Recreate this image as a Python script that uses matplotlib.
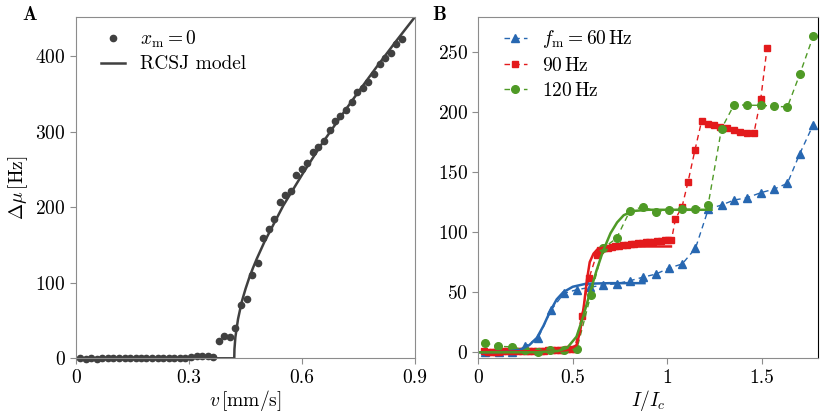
import matplotlib
matplotlib.use("Agg")
import matplotlib.pyplot as plt

plt.rcParams['font.family'] = 'serif'
plt.rcParams['font.serif'] = ['cmr10']
plt.rcParams['mathtext.fontset'] = 'cm'
plt.rcParams['axes.formatter.use_mathtext'] = True
plt.rcParams['font.size'] = 14

# ---- panel A data: x_m = 0 measurement
v_low = [0.011, 0.026, 0.041, 0.055, 0.070, 0.085, 0.099, 0.114, 0.129, 0.143,
         0.158, 0.173, 0.187, 0.202, 0.217, 0.231, 0.246, 0.261, 0.275, 0.290,
         0.305, 0.320, 0.334, 0.349, 0.364]
mu_low = [0, -1, 0, -1, 0, 1, 1, 1, 0, 1,
          1, 1, 1, 1, 1, 0, 1, 0, 1, 1,
          2, 3, 3, 3, 2]
v_high = [0.380, 0.394, 0.409, 0.423, 0.438, 0.453, 0.467, 0.482, 0.497, 0.511,
          0.526, 0.541, 0.555, 0.570, 0.585, 0.599, 0.614, 0.629, 0.643, 0.658,
          0.673, 0.687, 0.702, 0.717, 0.732, 0.747, 0.762, 0.776, 0.791, 0.806,
          0.820, 0.835, 0.850, 0.864]
mu_high = [23, 30, 28, 40, 70, 78, 110, 126, 159, 171,
           184, 207, 216, 221, 242, 251, 258, 273, 279, 287,
           302, 314, 321, 328, 339, 353, 358, 366, 376, 389,
           398, 404, 416, 423]
v_data = v_low + v_high
mu_data = mu_low + mu_high

# RCSJ model curve
v_model = [0, 0.42, 0.4205, 0.423, 0.43, 0.44, 0.45, 0.46, 0.47, 0.48, 0.50,
           0.55, 0.60, 0.65, 0.70, 0.75, 0.80, 0.85, 0.90]
mu_model = [0, 0, 12, 28, 52, 75, 92, 107, 120, 132, 154,
            202, 243, 282, 318, 353, 387, 420, 452]

# ---- panel B data
I_60 = [0.037, 0.107, 0.177, 0.247, 0.317, 0.385, 0.453, 0.520, 0.591, 0.662,
        0.732, 0.803, 0.873, 0.940, 1.010, 1.080, 1.150, 1.218, 1.288, 1.355,
        1.423, 1.496, 1.566, 1.637, 1.702, 1.773]
df_60 = [0, 0, 0, 5, 12, 35, 49, 52, 54, 56,
         57, 59.5, 62.5, 65, 70, 73.5, 86.5, 119, 122.5, 126.6,
         128.5, 132.7, 135.7, 140.5, 165, 189]

I_90 = [0.03, 0.05, 0.07, 0.09, 0.11, 0.13, 0.15, 0.17, 0.19, 0.21,
        0.23, 0.25, 0.27, 0.29, 0.31, 0.33, 0.35, 0.37, 0.39, 0.41,
        0.43, 0.45, 0.47, 0.49, 0.51, 0.547, 0.587, 0.626,
        0.646, 0.666, 0.686, 0.706, 0.726, 0.746, 0.766, 0.786, 0.806, 0.826,
        0.846, 0.866, 0.886, 0.906, 0.926, 0.946, 0.966, 0.986, 1.006, 1.023,
        1.044, 1.079, 1.111, 1.147, 1.182, 1.214, 1.247, 1.282, 1.317, 1.353,
        1.388, 1.423, 1.460, 1.496, 1.529]
df_90 = [1, 0, 0, 0, 0, 1, 1, 1, 1, 1,
         1, 1, 1, 1, 1, 1, 1, 2, 2, 2,
         2, 2, 3, 3, 3, 30, 62, 81,
         85, 86.5, 87, 87.5, 88, 88.5, 89, 89.5, 90, 90.3,
         90.7, 91, 91.3, 91.7, 92, 92.3, 92.7, 93, 93, 93.4,
         111, 121, 142, 168, 192, 190, 189, 187.5, 186.5, 185,
         183, 182, 182.5, 211, 253]

I_120 = [0.035, 0.106, 0.176, 0.246, 0.316, 0.381, 0.452, 0.522, 0.596, 0.661,
         0.732, 0.803, 0.873, 0.940, 1.010, 1.081, 1.150, 1.217, 1.288, 1.355,
         1.423, 1.496, 1.566, 1.637, 1.702, 1.773]
df_120 = [7.8, 5, 4.5, 2, 0.3, 1.7, 1.7, 2.8, 47.8, 86.6,
          94.8, 117.7, 121, 117, 118.3, 119, 119, 122.5, 186, 206,
          205.4, 205.4, 204.6, 204, 231, 262.6]

# fits
I_fit60 = [0, 0.13, 0.22, 0.27, 0.31, 0.345, 0.38, 0.415, 0.45, 0.50, 0.57, 0.70, 0.88]
df_fit60 = [0, 0.3, 2, 6, 12, 22, 34, 44, 50, 54.5, 57, 57.5, 57.5]
I_fit90 = [0.03, 0.40, 0.48, 0.52, 0.54, 0.56, 0.575, 0.59, 0.61, 0.63, 0.66, 0.75, 1.02]
df_fit90 = [0.5, 1, 2, 6, 18, 40, 60, 75, 82, 85.5, 87, 88, 88]
I_fit120 = [0, 0.30, 0.42, 0.47, 0.52, 0.556, 0.59, 0.626, 0.66, 0.70, 0.735, 0.77,
            0.82, 0.90, 1.235]
df_fit120 = [0, 0, 1, 3.6, 13, 30, 49, 68, 84, 99, 108, 114, 117.5, 118.5, 118.5]

blue = '#2767b1'
red = '#e31a1c'
green = '#4f9a26'
dark = '#404040'
spine_c = '#8c8c8c'

fig = plt.figure(figsize=(8.31, 4.15), dpi=100)
axA = fig.add_axes([0.0915, 0.1366, 0.408, 0.823])
axB = fig.add_axes([0.5756, 0.1366, 0.409, 0.823])

for ax in (axA, axB):
    for s in ax.spines.values():
        s.set_color(spine_c)
    ax.tick_params(direction='out', length=4, color=spine_c, labelsize=14)

# panel A
axA.plot(v_data, mu_data, 'o', color=dark, ms=4.5, clip_on=False, label=r'$x_\mathrm{m} = 0$')
axA.plot(v_model, mu_model, '-', color=dark, lw=1.8, label='RCSJ model')
axA.set_xlim(0, 0.9)
axA.set_ylim(0, 452)
axA.set_xticks([0, 0.3, 0.6, 0.9], ['0', '0.3', '0.6', '0.9'])
axA.set_yticks([0, 100, 200, 300, 400])
axA.set_xlabel(r'$v\,[\mathrm{mm/s}]$', labelpad=1)
axA.set_ylabel(r'$\Delta\mu\,[\mathrm{Hz}]$', labelpad=4)
axA.legend(loc='upper left', bbox_to_anchor=(0.04, 1.0), frameon=False,
           handlelength=1.2, borderaxespad=0.2, labelspacing=0.3,
           handletextpad=0.8, fontsize=14)

# panel B
axB.plot(I_60, df_60, '--^', color=blue, lw=1, ms=6, dashes=(4, 3),
         label=r'$f_\mathrm{m} = 60\,\mathrm{Hz}$')
axB.plot(I_90, df_90, '--s', color=red, lw=1, ms=5, dashes=(4, 3),
         label=r'$90\,\mathrm{Hz}$')
axB.plot(I_120, df_120, '--o', color=green, lw=1, ms=5.5, dashes=(4, 3),
         label=r'$120\,\mathrm{Hz}$')
axB.plot(I_fit60, df_fit60, '-', color=blue, lw=1.8)
axB.plot(I_fit90, df_fit90, '-', color=red, lw=1.8)
axB.plot(I_fit120, df_fit120, '-', color=green, lw=1.8)
axB.set_xlim(0, 1.8)
axB.set_ylim(-5, 279)
axB.set_xticks([0, 0.5, 1, 1.5], ['0', '0.5', '1', '1.5'])
axB.set_yticks([0, 50, 100, 150, 200, 250])
axB.set_xlabel(r'$I/I_c$', labelpad=1)
axB.spines['right'].set_color('black')
axB.legend(loc='upper left', bbox_to_anchor=(0.04, 1.0), frameon=False,
           handlelength=1.2, borderaxespad=0.2, labelspacing=0.35,
           handletextpad=0.8, fontsize=14)

fig.text(0.027, 0.965, 'A', fontfamily='cmb10', fontsize=14, va='center')
fig.text(0.52, 0.965, 'B', fontfamily='cmb10', fontsize=14, va='center')

fig.savefig('out.png', dpi=100)
